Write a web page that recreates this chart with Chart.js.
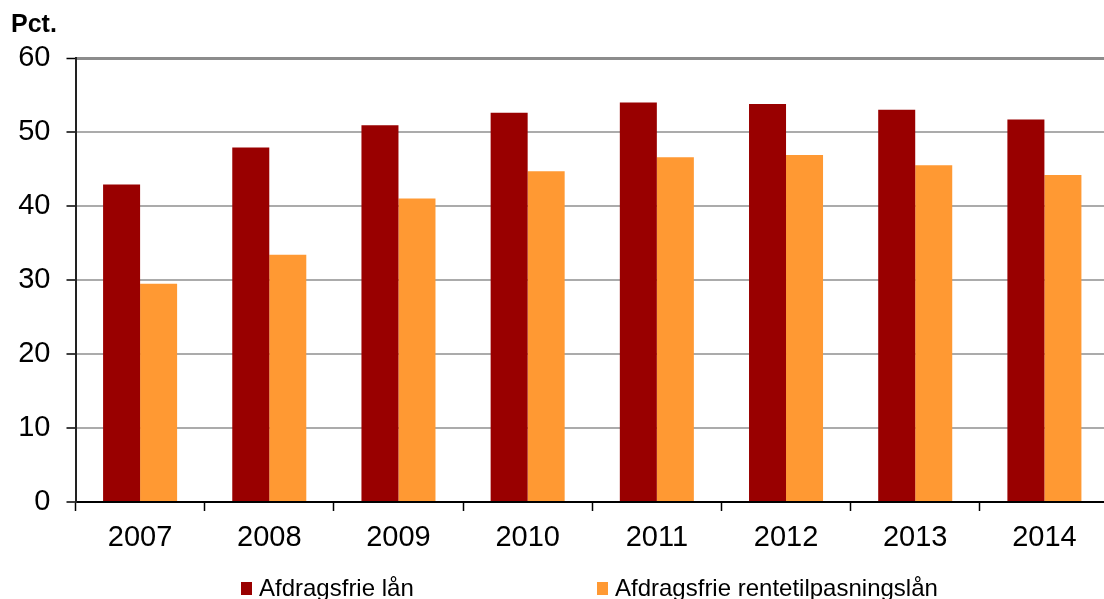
<!DOCTYPE html>
<html>
<head>
<meta charset="utf-8">
<script src="https://cdn.jsdelivr.net/npm/chart.js@4/dist/chart.umd.min.js"></script>
<style>
  html, body { margin: 0; padding: 0; background: #fff; overflow: hidden; }
  #wrap { width: 1112px; height: 599px; position: relative; }
</style>
</head>
<body>
<div id="wrap"><canvas id="c"></canvas></div>
<script>
// Share of loans (pct.), 2007-2014
const years = ['2007', '2008', '2009', '2010', '2011', '2012', '2013', '2014'];
const afdragsfrieLaan = [42.9, 47.9, 50.9, 52.6, 54.0, 53.8, 53.0, 51.7];
const afdragsfrieRentetilpasning = [29.5, 33.4, 41.0, 44.7, 46.6, 46.9, 45.5, 44.2];
const seriesNames = ['Afdragsfrie lån', 'Afdragsfrie rentetilpasningslån'];
const yTicks = [0, 10, 20, 30, 40, 50, 60];

const FONT = '"Liberation Sans", Arial, sans-serif';

// Unit caption above the value axis
const unitLabel = {
  id: 'unitLabel',
  afterDraw(chart) {
    const ctx = chart.ctx;
    ctx.save();
    ctx.font = 'bold 25px ' + FONT;
    ctx.fillStyle = '#000';
    ctx.textBaseline = 'alphabetic';
    ctx.textAlign = 'left';
    ctx.fillText('Pct.', 11, 32);
    ctx.restore();
  }
};

// Legend row under the category labels
const bottomLegend = {
  id: 'bottomLegend',
  afterDraw(chart, args, opts) {
    const ctx = chart.ctx;
    ctx.save();
    ctx.font = '24px ' + FONT;
    ctx.textBaseline = 'alphabetic';
    ctx.textAlign = 'left';
    chart.data.datasets.forEach((ds, i) => {
      const x = opts.starts[i];
      ctx.fillStyle = ds.backgroundColor;
      ctx.fillRect(x, opts.boxTop, opts.boxW, opts.boxH);
      ctx.fillStyle = '#000';
      ctx.fillText(ds.label, x + opts.textGap, opts.baseline);
    });
    ctx.restore();
  }
};

new Chart(document.getElementById('c'), {
  type: 'bar',
  data: {
    labels: years,
    datasets: [
      { label: seriesNames[0], data: afdragsfrieLaan, backgroundColor: '#990000' },
      { label: seriesNames[1], data: afdragsfrieRentetilpasning, backgroundColor: '#FF9933' }
    ]
  },
  options: {
    responsive: true,
    maintainAspectRatio: false,
    animation: false,
    events: [],
    layout: { padding: { left: 0, right: 3, top: 58, bottom: 0 } },
    datasets: { bar: { categoryPercentage: 0.573, barPercentage: 1.0 } },
    plugins: {
      legend: { display: false },
      tooltip: { enabled: false },
      bottomLegend: { starts: [241, 597], boxW: 11, boxH: 13, boxTop: 582, textGap: 18, baseline: 595.5 }
    },
    scales: {
      x: {
        offset: true,
        grid: {
          display: true,
          offset: true,
          drawOnChartArea: false,
          drawTicks: true,
          tickLength: 9,
          tickColor: '#000',
          tickWidth: 1.5
        },
        border: { display: true, color: '#000', width: 2 },
        ticks: {
          color: '#000',
          font: { family: FONT, size: 29 },
          padding: 10,
          maxRotation: 0
        },
        afterFit(scale) { scale.height = 97; }
      },
      y: {
        min: 0,
        max: 60,
        afterBuildTicks(scale) { scale.ticks = yTicks.map(v => ({ value: v })); },
        grid: {
          color: ctx => ctx.tick && ctx.tick.value === 60 ? '#8c8c8c' : (ctx.tick && ctx.tick.value === 0 ? 'rgba(0,0,0,0)' : '#ababab'),
          lineWidth: ctx => ctx.tick && ctx.tick.value === 60 ? 3 : 2,
          drawTicks: true,
          tickLength: 9,
          tickColor: '#000',
          tickWidth: 1.5
        },
        border: { display: true, color: '#222', width: 2 },
        ticks: {
          color: '#000',
          font: { family: FONT, size: 29 },
          padding: 16
        },
        afterFit(scale) { scale.width = 75.5; }
      }
    }
  },
  plugins: [unitLabel, bottomLegend]
});
</script>
</body>
</html>
